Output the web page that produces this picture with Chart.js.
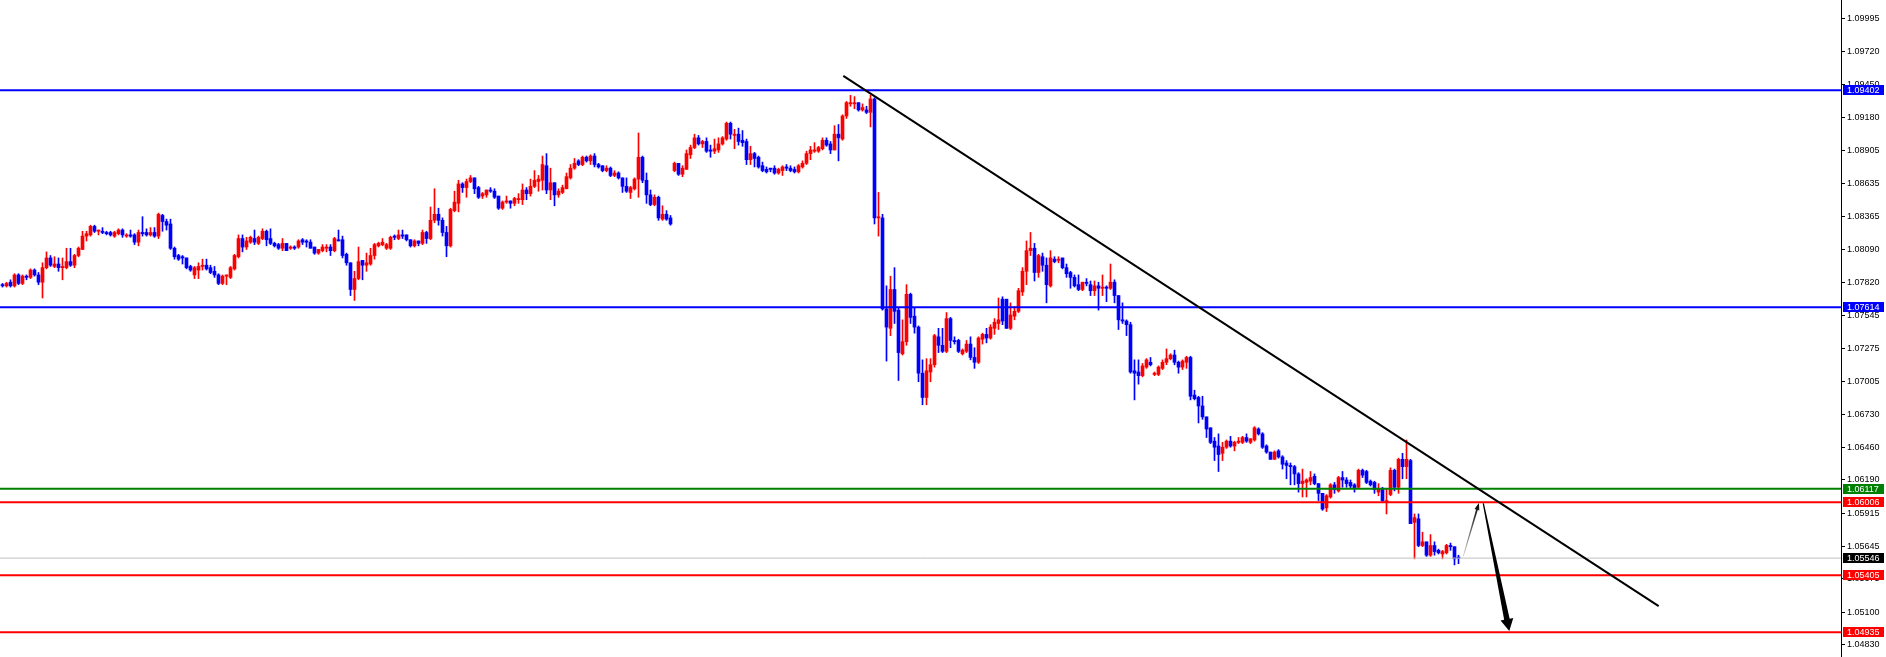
<!DOCTYPE html>
<html>
<head>
<meta charset="utf-8">
<title>EURUSD H4</title>
<script src="https://cdn.jsdelivr.net/npm/chart.js@4.4.1/dist/chart.umd.min.js"></script>
<style>
    html, body { margin: 0; padding: 0; background: #ffffff; overflow: hidden; }
    #chart { display: block; }
</style>
</head>
<body>
<canvas id="chart" width="1886" height="657"></canvas>
<script>
// --- PRICE DATA (one entry per bar, oldest first) ---
const opens = [
    1.0780,1.0779,1.0782,1.0779,1.0788,1.0781,1.0787,1.0786,1.0792,1.0788,
    1.0782,1.0794,1.0802,1.0795,1.0797,1.0794,1.0794,1.0799,1.0796,1.0804,
    1.0809,1.0820,1.0821,1.0828,1.0824,1.0824,1.0823,1.0823,1.0820,1.0822,
    1.0825,1.0820,1.0821,1.0821,1.0815,1.0823,1.0823,1.0821,1.0823,1.0820,
    1.0837,1.0832,1.0830,1.0810,1.0804,1.0803,1.0802,1.0795,1.0788,1.0792,
    1.0795,1.0796,1.0794,1.0791,1.0788,1.0781,1.0787,1.0786,1.0793,1.0803,
    1.0818,1.0811,1.0815,1.0818,1.0814,1.0818,1.0824,1.0818,1.0814,1.0813,
    1.0810,1.0814,1.0810,1.0811,1.0811,1.0817,1.0816,1.0815,1.0811,1.0806,
    1.0808,1.0810,1.0811,1.0808,1.0817,1.0817,1.0805,1.0798,1.0776,1.0785,
    1.0800,1.0796,1.0797,1.0804,1.0812,1.0813,1.0810,1.0810,1.0820,1.0818,
    1.0821,1.0821,1.0817,1.0812,1.0816,1.0814,1.0823,1.0818,1.0833,1.0838,
    1.0833,1.0823,1.0812,1.0841,1.0847,1.0863,1.0860,1.0865,1.0868,1.0860,
    1.0853,1.0854,1.0858,1.0857,1.0853,1.0843,1.0848,1.0849,1.0847,1.0850,
    1.0850,1.0858,1.0855,1.0861,1.0865,1.0866,1.0878,1.0858,1.0864,1.0854,
    1.0856,1.0859,1.0868,1.0876,1.0882,1.0879,1.0885,1.0882,1.0886,1.0879,
    1.0878,1.0874,1.0876,1.0870,1.0872,1.0868,1.0861,1.0856,1.0859,1.0867,
    1.0885,1.0866,1.0854,1.0846,1.0852,1.0834,1.0838,1.0835,1.0874,1.0880,
    1.0871,1.0875,1.0887,1.0893,1.0901,1.0896,1.0898,1.0891,1.0890,1.0891,
    1.0896,1.0900,1.0913,1.0903,1.0904,1.0899,1.0898,1.0883,1.0888,1.0885,
    1.0878,1.0875,1.0876,1.0876,1.0872,1.0874,1.0877,1.0876,1.0875,1.0873,
    1.0877,1.0880,1.0888,1.0890,1.0890,1.0892,1.0899,1.0896,1.0891,1.0904,
    1.0900,1.0919,1.0929,1.0929,1.0930,1.0924,1.0924,1.0922,1.0933,1.0835,
    1.0835,1.0760,1.0744,1.0776,1.0759,1.0723,1.0733,1.0772,1.0754,1.0745,
    1.0707,1.0687,1.0708,1.0714,1.0737,1.0730,1.0725,1.0752,1.0734,1.0734,
    1.0723,1.0725,1.0731,1.0720,1.0716,1.0735,1.0739,1.0736,1.0744,1.0748,
    1.0768,1.0768,1.0744,1.0754,1.0758,1.0774,1.0791,1.0808,1.0810,1.0790,
    1.0803,1.0796,1.0779,1.0801,1.0800,1.0802,1.0794,1.0790,1.0786,1.0780,
    1.0776,1.0782,1.0780,1.0775,1.0779,1.0777,1.0778,1.0777,1.0782,1.0771,
    1.0751,1.0750,1.0747,1.0709,1.0708,1.0705,1.0712,1.0716,1.0706,1.0706,
    1.0711,1.0716,1.0719,1.0722,1.0716,1.0712,1.0716,1.0720,1.0689,1.0687,
    1.0680,1.0671,1.0662,1.0651,1.0647,1.0641,1.0646,1.0651,1.0647,1.0650,
    1.0650,1.0654,1.0650,1.0652,1.0661,1.0657,1.0647,1.0642,1.0636,1.0643,
    1.0638,1.0633,1.0631,1.0630,1.0624,1.0616,1.0617,1.0618,1.0622,1.0616,
    1.0608,1.0596,1.0605,1.0615,1.0610,1.0621,1.0619,1.0617,1.0615,1.0613,
    1.0627,1.0626,1.0618,1.0617,1.0609,1.0612,1.0601,1.0607,1.0627,1.0613,
    1.0636,1.0630,1.0635,1.0584,1.0587,1.0565,1.0568,1.0557,1.0565,1.0561,
    1.0558,1.0559,1.0565,1.0564,1.0555
];
const highs = [
    1.0781,1.0782,1.0784,1.0789,1.0789,1.0788,1.0788,1.0793,1.0793,1.0790,
    1.0798,1.0807,1.0804,1.0803,1.0802,1.0802,1.0810,1.0810,1.0805,1.0811,
    1.0824,1.0824,1.0829,1.0829,1.0825,1.0827,1.0824,1.0824,1.0824,1.0826,
    1.0826,1.0822,1.0825,1.0822,1.0825,1.0836,1.0826,1.0827,1.0827,1.0839,
    1.0838,1.0834,1.0834,1.0811,1.0805,1.0804,1.0802,1.0796,1.0795,1.0798,
    1.0801,1.0801,1.0796,1.0795,1.0789,1.0788,1.0788,1.0795,1.0805,1.0821,
    1.0821,1.0819,1.0820,1.0825,1.0820,1.0826,1.0825,1.0826,1.0815,1.0814,
    1.0818,1.0814,1.0812,1.0812,1.0817,1.0818,1.0817,1.0817,1.0811,1.0809,
    1.0813,1.0813,1.0813,1.0819,1.0825,1.0820,1.0806,1.0798,1.0791,1.0811,
    1.0800,1.0806,1.0810,1.0814,1.0815,1.0818,1.0814,1.0820,1.0821,1.0825,
    1.0825,1.0821,1.0817,1.0817,1.0816,1.0825,1.0824,1.0844,1.0859,1.0843,
    1.0835,1.0828,1.0843,1.0857,1.0866,1.0864,1.0867,1.0870,1.0868,1.0861,
    1.0856,1.0858,1.0860,1.0859,1.0853,1.0849,1.0853,1.0849,1.0852,1.0855,
    1.0863,1.0860,1.0867,1.0874,1.0870,1.0886,1.0888,1.0876,1.0864,1.0859,
    1.0862,1.0872,1.0879,1.0884,1.0883,1.0886,1.0886,1.0887,1.0888,1.0880,
    1.0878,1.0878,1.0877,1.0874,1.0873,1.0868,1.0868,1.0861,1.0868,1.0905,
    1.0886,1.0872,1.0858,1.0854,1.0853,1.0845,1.0841,1.0837,1.0881,1.0880,
    1.0878,1.0891,1.0895,1.0904,1.0903,1.0899,1.0901,1.0895,1.0900,1.0901,
    1.0902,1.0914,1.0914,1.0908,1.0909,1.0907,1.0900,1.0894,1.0889,1.0886,
    1.0881,1.0877,1.0876,1.0878,1.0876,1.0878,1.0879,1.0878,1.0877,1.0879,
    1.0882,1.0890,1.0894,1.0897,1.0894,1.0901,1.0901,1.0898,1.0911,1.0912,
    1.0920,1.0931,1.0936,1.0935,1.0930,1.0929,1.0927,1.0936,1.0934,1.0856,
    1.0838,1.0779,1.0787,1.0794,1.0761,1.0751,1.0780,1.0773,1.0761,1.0746,
    1.0718,1.0719,1.0719,1.0739,1.0744,1.0744,1.0757,1.0753,1.0737,1.0735,
    1.0727,1.0734,1.0737,1.0728,1.0737,1.0740,1.0744,1.0747,1.0752,1.0769,
    1.0770,1.0768,1.0765,1.0762,1.0777,1.0794,1.0816,1.0823,1.0814,1.0805,
    1.0806,1.0802,1.0808,1.0803,1.0803,1.0802,1.0797,1.0791,1.0788,1.0788,
    1.0782,1.0785,1.0783,1.0783,1.0782,1.0788,1.0779,1.0797,1.0784,1.0771,
    1.0765,1.0751,1.0749,1.0718,1.0718,1.0715,1.0719,1.0720,1.0708,1.0713,
    1.0718,1.0727,1.0723,1.0726,1.0717,1.0718,1.0721,1.0721,1.0693,1.0688,
    1.0688,1.0671,1.0662,1.0654,1.0657,1.0650,1.0652,1.0655,1.0651,1.0654,
    1.0655,1.0657,1.0653,1.0663,1.0662,1.0658,1.0648,1.0642,1.0643,1.0644,
    1.0639,1.0635,1.0633,1.0631,1.0625,1.0628,1.0620,1.0626,1.0624,1.0616,
    1.0608,1.0607,1.0616,1.0617,1.0622,1.0626,1.0621,1.0619,1.0616,1.0628,
    1.0628,1.0627,1.0619,1.0618,1.0616,1.0613,1.0612,1.0629,1.0628,1.0637,
    1.0641,1.0652,1.0636,1.0591,1.0591,1.0576,1.0568,1.0574,1.0568,1.0562,
    1.0561,1.0566,1.0567,1.0564,1.0557
];
const lows = [
    1.0778,1.0778,1.0778,1.0778,1.0780,1.0780,1.0784,1.0785,1.0787,1.0780,
    1.0769,1.0793,1.0795,1.0794,1.0791,1.0784,1.0793,1.0795,1.0794,1.0803,
    1.0809,1.0816,1.0820,1.0823,1.0821,1.0822,1.0821,1.0820,1.0819,1.0821,
    1.0819,1.0819,1.0819,1.0813,1.0812,1.0820,1.0820,1.0820,1.0819,1.0818,
    1.0824,1.0825,1.0809,1.0801,1.0800,1.0797,1.0793,1.0791,1.0785,1.0785,
    1.0792,1.0792,1.0789,1.0786,1.0780,1.0780,1.0780,1.0785,1.0792,1.0802,
    1.0807,1.0809,1.0814,1.0813,1.0813,1.0817,1.0812,1.0813,1.0811,1.0809,
    1.0808,1.0808,1.0809,1.0809,1.0810,1.0813,1.0811,1.0810,1.0805,1.0805,
    1.0807,1.0807,1.0804,1.0807,1.0816,1.0802,1.0796,1.0771,1.0767,1.0784,
    1.0784,1.0791,1.0796,1.0801,1.0811,1.0812,1.0809,1.0809,1.0817,1.0817,
    1.0818,1.0816,1.0811,1.0811,1.0812,1.0813,1.0814,1.0817,1.0831,1.0829,
    1.0820,1.0803,1.0811,1.0840,1.0840,1.0856,1.0852,1.0864,1.0855,1.0851,
    1.0851,1.0852,1.0856,1.0851,1.0842,1.0842,1.0847,1.0843,1.0845,1.0847,
    1.0846,1.0850,1.0853,1.0860,1.0857,1.0858,1.0855,1.0850,1.0845,1.0852,
    1.0855,1.0859,1.0867,1.0875,1.0878,1.0878,1.0881,1.0879,1.0877,1.0876,
    1.0873,1.0873,1.0869,1.0869,1.0867,1.0856,1.0856,1.0851,1.0858,1.0852,
    1.0864,1.0847,1.0845,1.0845,1.0833,1.0833,1.0833,1.0829,1.0873,1.0870,
    1.0869,1.0875,1.0884,1.0892,1.0895,1.0893,1.0889,1.0885,1.0888,1.0889,
    1.0895,1.0899,1.0900,1.0892,1.0895,1.0894,1.0879,1.0879,1.0877,1.0876,
    1.0873,1.0872,1.0873,1.0871,1.0871,1.0870,1.0874,1.0873,1.0872,1.0872,
    1.0876,1.0879,1.0883,1.0889,1.0889,1.0891,1.0894,1.0888,1.0891,1.0882,
    1.0899,1.0917,1.0927,1.0925,1.0923,1.0923,1.0921,1.0910,1.0830,1.0820,
    1.0759,1.0717,1.0738,1.0748,1.0701,1.0722,1.0730,1.0748,1.0740,1.0700,
    1.0681,1.0681,1.0700,1.0712,1.0724,1.0724,1.0724,1.0728,1.0731,1.0724,
    1.0722,1.0724,1.0718,1.0711,1.0715,1.0731,1.0732,1.0735,1.0739,1.0743,
    1.0747,1.0744,1.0743,1.0751,1.0757,1.0771,1.0780,1.0804,1.0783,1.0786,
    1.0791,1.0765,1.0778,1.0798,1.0798,1.0793,1.0786,1.0777,1.0778,1.0775,
    1.0775,1.0779,1.0771,1.0771,1.0759,1.0771,1.0766,1.0776,1.0765,1.0743,
    1.0748,1.0738,1.0707,1.0685,1.0698,1.0704,1.0711,1.0713,1.0705,1.0705,
    1.0710,1.0714,1.0718,1.0714,1.0707,1.0710,1.0711,1.0685,1.0685,1.0666,
    1.0669,1.0654,1.0649,1.0635,1.0626,1.0635,1.0645,1.0646,1.0643,1.0649,
    1.0649,1.0650,1.0649,1.0651,1.0656,1.0645,1.0641,1.0636,1.0636,1.0637,
    1.0628,1.0620,1.0615,1.0615,1.0609,1.0605,1.0605,1.0615,1.0615,1.0602,
    1.0594,1.0593,1.0604,1.0608,1.0609,1.0613,1.0613,1.0612,1.0609,1.0612,
    1.0621,1.0616,1.0614,1.0608,1.0606,1.0601,1.0591,1.0606,1.0610,1.0608,
    1.0620,1.0620,1.0583,1.0554,1.0564,1.0564,1.0556,1.0556,1.0557,1.0558,
    1.0554,1.0558,1.0561,1.0549,1.0550
];
const closes = [
    1.0779,1.0781,1.0779,1.0788,1.0781,1.0787,1.0786,1.0792,1.0788,1.0782,
    1.0794,1.0802,1.0796,1.0797,1.0794,1.0795,1.0799,1.0796,1.0804,1.0810,
    1.0820,1.0822,1.0828,1.0824,1.0825,1.0823,1.0822,1.0821,1.0823,1.0825,
    1.0821,1.0821,1.0820,1.0815,1.0823,1.0822,1.0821,1.0823,1.0820,1.0838,
    1.0832,1.0829,1.0810,1.0803,1.0801,1.0802,1.0794,1.0792,1.0794,1.0795,
    1.0796,1.0793,1.0790,1.0788,1.0781,1.0787,1.0788,1.0794,1.0804,1.0818,
    1.0811,1.0816,1.0819,1.0815,1.0819,1.0824,1.0817,1.0814,1.0812,1.0810,
    1.0814,1.0808,1.0811,1.0810,1.0816,1.0815,1.0815,1.0810,1.0806,1.0809,
    1.0811,1.0811,1.0808,1.0818,1.0816,1.0804,1.0798,1.0776,1.0785,1.0799,
    1.0796,1.0798,1.0804,1.0813,1.0814,1.0815,1.0813,1.0819,1.0819,1.0821,
    1.0820,1.0817,1.0812,1.0816,1.0814,1.0823,1.0818,1.0833,1.0838,1.0833,
    1.0823,1.0812,1.0842,1.0848,1.0863,1.0860,1.0865,1.0868,1.0859,1.0852,
    1.0855,1.0858,1.0857,1.0852,1.0843,1.0848,1.0849,1.0847,1.0851,1.0851,
    1.0858,1.0855,1.0861,1.0866,1.0867,1.0879,1.0858,1.0864,1.0854,1.0857,
    1.0860,1.0869,1.0876,1.0880,1.0879,1.0885,1.0882,1.0886,1.0879,1.0877,
    1.0874,1.0876,1.0870,1.0872,1.0868,1.0861,1.0857,1.0860,1.0867,1.0885,
    1.0866,1.0854,1.0846,1.0852,1.0835,1.0838,1.0834,1.0830,1.0880,1.0871,
    1.0876,1.0888,1.0893,1.0901,1.0896,1.0898,1.0890,1.0890,1.0892,1.0896,
    1.0901,1.0913,1.0904,1.0904,1.0898,1.0897,1.0883,1.0888,1.0884,1.0877,
    1.0874,1.0873,1.0875,1.0872,1.0875,1.0877,1.0876,1.0874,1.0873,1.0878,
    1.0880,1.0888,1.0891,1.0891,1.0893,1.0899,1.0895,1.0891,1.0904,1.0901,
    1.0919,1.0930,1.0930,1.0930,1.0924,1.0926,1.0922,1.0933,1.0835,1.0836,
    1.0760,1.0745,1.0776,1.0758,1.0724,1.0733,1.0772,1.0753,1.0745,1.0707,
    1.0687,1.0709,1.0714,1.0738,1.0730,1.0725,1.0752,1.0734,1.0733,1.0725,
    1.0726,1.0731,1.0720,1.0716,1.0736,1.0739,1.0736,1.0745,1.0749,1.0751,
    1.0750,1.0744,1.0755,1.0758,1.0775,1.0791,1.0808,1.0810,1.0790,1.0804,
    1.0796,1.0780,1.0802,1.0799,1.0801,1.0794,1.0789,1.0786,1.0779,1.0776,
    1.0782,1.0781,1.0775,1.0779,1.0777,1.0778,1.0777,1.0782,1.0771,1.0751,
    1.0750,1.0747,1.0708,1.0707,1.0705,1.0713,1.0718,1.0714,1.0707,1.0712,
    1.0716,1.0719,1.0722,1.0716,1.0712,1.0717,1.0720,1.0688,1.0686,1.0680,
    1.0671,1.0661,1.0650,1.0646,1.0640,1.0646,1.0651,1.0647,1.0650,1.0651,
    1.0654,1.0651,1.0653,1.0662,1.0657,1.0646,1.0642,1.0636,1.0642,1.0638,
    1.0632,1.0631,1.0630,1.0624,1.0616,1.0618,1.0619,1.0621,1.0616,1.0608,
    1.0595,1.0606,1.0615,1.0611,1.0621,1.0619,1.0616,1.0614,1.0612,1.0627,
    1.0623,1.0617,1.0615,1.0611,1.0612,1.0602,1.0602,1.0627,1.0613,1.0636,
    1.0630,1.0636,1.0583,1.0588,1.0565,1.0568,1.0557,1.0565,1.0560,1.0559,
    1.0560,1.0565,1.0564,1.0554,1.05546
];

// --- PRICE SCALE ---
const tickPrices = [1.09995, 1.09720, 1.09450, 1.09180, 1.08905, 1.08635, 1.08365, 1.08090, 1.07820, 1.07545,
                    1.07275, 1.07005, 1.06730, 1.06460, 1.06190, 1.05915, 1.05645, 1.05375, 1.05100, 1.04830];
const priceMin = 1.04731;
const priceMax = 1.10146;
const barSlots = [-0.625, 459.625];   // visible bar range incl. empty space on the right

// --- HORIZONTAL LEVELS ---
const levelPrices = [1.09402, 1.07614, 1.06117, 1.06006, 1.05546, 1.05405, 1.04935];

// --- DRAWN OBJECTS as [bar index, price] ---
const trendLine = [[210.2, 1.09521], [414.05, 1.05150]];
const arrowUp   = [[365.2, 1.05563], [369.1, 1.06000]];
const arrowDown = [[370.2, 1.05998], [376.7, 1.04945]];

if (new Set([opens.length, highs.length, lows.length, closes.length]).size !== 1) {
    throw new Error('bar arrays differ: ' + [opens.length, highs.length, lows.length, closes.length].join(','));
}

// --- STYLES ---
const BULL = '#ff0000';
const BEAR = '#0000ff';
const levelLook = [
    { line: '#0000ff', box: '#0000ff', width: 2 },
    { line: '#0000ff', box: '#0000ff', width: 2 },
    { line: '#008000', box: '#008000', width: 2 },
    { line: '#ff0000', box: '#ff0000', width: 2 },
    { line: '#c0c0c0', box: '#000000', width: 1 },
    { line: '#ff0000', box: '#ff0000', width: 2 },
    { line: '#ff0000', box: '#ff0000', width: 2 }
];
const FONT = { family: '"Liberation Sans", Arial, sans-serif', size: 9 };

const barColors = opens.map((o, i) => closes[i] >= o ? BULL : BEAR);

const levelDatasets = levelPrices.map((p, k) => ({
    type: 'line',
    data: [{ x: barSlots[0], y: p }, { x: barSlots[1], y: p }],
    borderColor: levelLook[k].line,
    borderWidth: levelLook[k].width,
    pointRadius: 0,
    order: 1
}));

// price boxes on the right axis
const priceBoxes = {
    id: 'priceBoxes',
    afterDraw(chart) {
        const { ctx, scales: { y } } = chart;
        ctx.save();
        ctx.font = FONT.size + 'px ' + FONT.family;
        ctx.textBaseline = 'middle';
        levelPrices.forEach((p, k) => {
            const py = Math.round(y.getPixelForValue(p));
            ctx.fillStyle = levelLook[k].box;
            ctx.fillRect(y.left + 2, py - 5, 41, 10);
            ctx.fillStyle = '#ffffff';
            ctx.fillText(p.toFixed(5), y.left + 6, py + 0.5);
        });
        ctx.restore();
    }
};

function taperedArrow(ctx, p0, p1, w0, w1, headLen, headHalf, fill) {
    const dx = p1.x - p0.x, dy = p1.y - p0.y;
    const len = Math.hypot(dx, dy);
    const ux = dx / len, uy = dy / len, nx = -uy, ny = ux;
    const bx = p1.x - ux * headLen, by = p1.y - uy * headLen;
    ctx.beginPath();
    ctx.moveTo(p0.x + nx * w0, p0.y + ny * w0);
    ctx.lineTo(bx + nx * w1, by + ny * w1);
    ctx.lineTo(bx + nx * headHalf, by + ny * headHalf);
    ctx.lineTo(p1.x, p1.y);
    ctx.lineTo(bx - nx * headHalf, by - ny * headHalf);
    ctx.lineTo(bx - nx * w1, by - ny * w1);
    ctx.lineTo(p0.x - nx * w0, p0.y - ny * w0);
    ctx.closePath();
    ctx.fillStyle = fill;
    ctx.fill();
}

const arrows = {
    id: 'arrows',
    afterDatasetsDraw(chart) {
        const { ctx, scales: { x, y } } = chart;
        const pt = ([i, p]) => ({ x: x.getPixelForValue(i), y: y.getPixelForValue(p) });
        ctx.save();
        const a0 = pt(arrowUp[0]), a1 = pt(arrowUp[1]);
        const grad = ctx.createLinearGradient(a0.x, a0.y, a1.x, a1.y);
        grad.addColorStop(0, '#d0d0d0');
        grad.addColorStop(1, '#000000');
        taperedArrow(ctx, a0, a1, 0.4, 0.9, 7, 2.5, grad);
        taperedArrow(ctx, pt(arrowDown[0]), pt(arrowDown[1]), 0.6, 2.8, 12, 6.5, '#000000');
        ctx.restore();
    }
};

const ids = opens.map((_, i) => i);

new Chart(document.getElementById('chart'), {
    type: 'bar',
    data: {
        datasets: [
            {
                type: 'line',
                data: trendLine.map(([i, p]) => ({ x: i, y: p })),
                borderColor: '#000000',
                borderWidth: 2,
                pointRadius: 0,
                order: 0
            },
            ...levelDatasets,
            {
                data: ids.map(i => ({ x: i, y: [opens[i], closes[i]] })),
                backgroundColor: barColors,
                barThickness: 3,
                minBarLength: 1,
                grouped: false,
                order: 2
            },
            {
                data: ids.map(i => ({ x: i, y: [lows[i], highs[i]] })),
                backgroundColor: barColors,
                barThickness: 1,
                grouped: false,
                order: 3
            }
        ]
    },
    options: {
        responsive: false,
        devicePixelRatio: 1,
        animation: false,
        events: [],
        layout: { padding: 0 },
        plugins: { legend: { display: false }, tooltip: { enabled: false } },
        scales: {
            x: {
                type: 'linear',
                min: barSlots[0],
                max: barSlots[1],
                offset: false,
                display: false
            },
            y: {
                position: 'right',
                min: priceMin,
                max: priceMax,
                afterBuildTicks: scale => { scale.ticks = tickPrices.map(v => ({ value: v })); },
                afterFit: scale => { scale.width = 45; scale.paddingTop = 0; scale.paddingBottom = 0; },
                grid: { drawOnChartArea: false, drawTicks: true, tickLength: 4, color: '#000000' },
                border: { display: true, color: '#000000', width: 1 },
                ticks: {
                    autoSkip: false,
                    padding: 2,
                    color: '#000000',
                    font: FONT,
                    callback: v => v.toFixed(5)
                }
            }
        }
    },
    plugins: [arrows, priceBoxes]
});
</script>
</body>
</html>
